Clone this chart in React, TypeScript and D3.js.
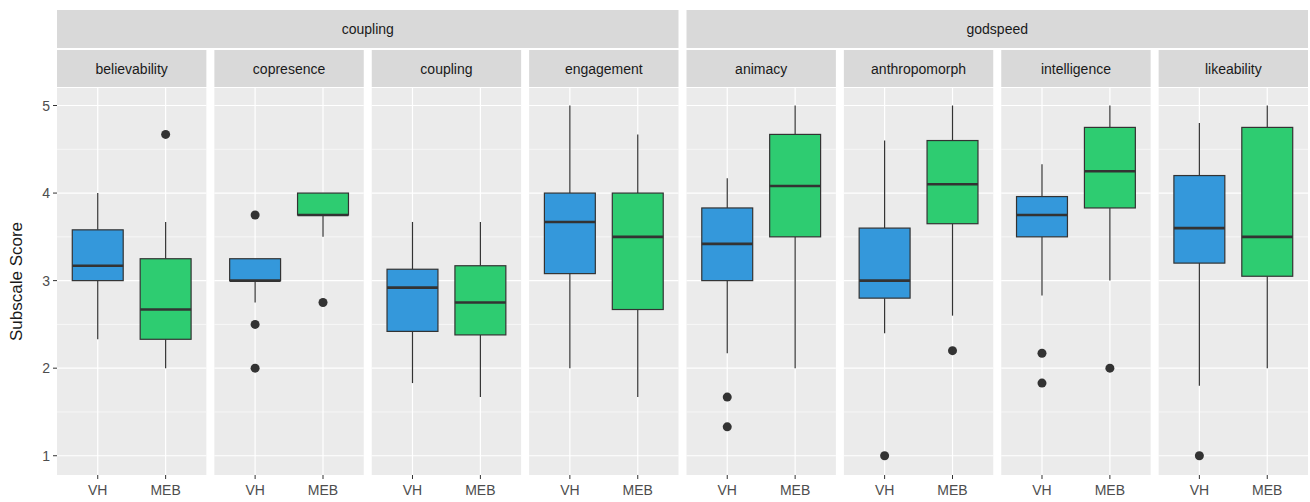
import * as d3 from 'd3';

const groups = ['coupling', 'godspeed'];
const panels = ['believability', 'copresence', 'coupling', 'engagement', 'animacy', 'anthropomorph', 'intelligence', 'likeability'];
const panelGroup = ['coupling', 'coupling', 'coupling', 'coupling', 'godspeed', 'godspeed', 'godspeed', 'godspeed'];
const conditions = ['VH', 'MEB'];
const yTicks = [1, 2, 3, 4, 5];
// [lowWhisker, q1, median, q3, highWhisker]
const vhStats = [
  [2.33, 3.0, 3.17, 3.58, 4.0],
  [2.75, 3.0, 3.0, 3.25, 3.25],
  [1.83, 2.42, 2.92, 3.13, 3.67],
  [2.0, 3.08, 3.67, 4.0, 5.0],
  [2.17, 3.0, 3.42, 3.83, 4.17],
  [2.4, 2.8, 3.0, 3.6, 4.6],
  [2.83, 3.5, 3.75, 3.96, 4.33],
  [1.8, 3.2, 3.6, 4.2, 4.8],
];
const mebStats = [
  [2.0, 2.33, 2.67, 3.25, 3.67],
  [3.5, 3.75, 3.75, 4.0, 4.0],
  [1.67, 2.38, 2.75, 3.17, 3.67],
  [1.67, 2.67, 3.5, 4.0, 4.67],
  [2.0, 3.5, 4.08, 4.67, 5.0],
  [2.6, 3.65, 4.1, 4.6, 5.0],
  [3.0, 3.83, 4.25, 4.75, 5.0],
  [2.0, 3.05, 3.5, 4.75, 5.0],
];
const vhOutliers = [[], [3.75, 2.5, 2.0], [], [], [1.67, 1.33], [1.0], [2.17, 1.83], [1.0]];
const mebOutliers = [[4.67], [2.75], [], [], [], [2.2], [2.0], []];
const fills = ['#3498db', '#2ecc71'];

const W = 1310, H = 502;
const left = 57, right = 1308, gap = 8;
const stripTop = 10, stripH = 38, innerTop = 50, innerH = 37;
const panelTop = 88, panelBot = 475;
const FONT = "'Liberation Sans Narrow', 'Arial Narrow', 'Liberation Sans', Arial, sans-serif";

export default function App() {
  const pw = (right - left - gap * (panels.length - 1)) / panels.length;
  const px = (i: number) => left + i * (pw + gap);
  const y = d3.scaleLinear().domain([0.78, 5.2]).range([panelBot, panelTop]);
  const x = d3.scaleBand().domain(conditions).range([0, pw]).paddingOuter(0.3).paddingInner(0.25 / 0.75 * 0.75);
  const xc = d3.scalePoint().domain(conditions).range([pw * 0.6 / 2.2, pw * 1.6 / 2.2]);
  const bw = pw * 0.75 / 2.2;
  const minor = [1.5, 2.5, 3.5, 4.5];
  void x;

  return (
    <svg width={W} height={H} style={{ position: 'absolute', left: 0, top: 0, fontFamily: FONT }}>
      <rect width={W} height={H} fill="#fff" />
      {groups.map((g, gi) => {
        const idx = panelGroup.map((p, i) => (p === g ? i : -1)).filter(i => i >= 0);
        const x0 = px(idx[0]), x1 = px(idx[idx.length - 1]) + pw;
        return (
          <g key={g}>
            <rect x={x0} y={stripTop} width={x1 - x0} height={stripH} fill="#d9d9d9" />
            <text x={(x0 + x1) / 2} y={stripTop + stripH / 2 + 5} textAnchor="middle" fontSize={14} fill="#1a1a1a">{g}</text>
          </g>
        );
      })}
      {panels.map((p, i) => {
        const ox = px(i);
        const stats = [vhStats[i], mebStats[i]];
        const outs = [vhOutliers[i], mebOutliers[i]];
        return (
          <g key={p} transform={`translate(${ox},0)`}>
            <rect x={0} y={innerTop} width={pw} height={innerH} fill="#d9d9d9" />
            <text x={pw / 2} y={innerTop + innerH / 2 + 5} textAnchor="middle" fontSize={14} fill="#1a1a1a">{p}</text>
            <rect x={0} y={panelTop} width={pw} height={panelBot - panelTop} fill="#ebebeb" />
            {minor.map(t => <line key={t} x1={0} x2={pw} y1={y(t)} y2={y(t)} stroke="#fff" strokeWidth={0.6} />)}
            {yTicks.map(t => <line key={t} x1={0} x2={pw} y1={y(t)} y2={y(t)} stroke="#fff" strokeWidth={1.2} />)}
            {conditions.map(c => <line key={c} x1={xc(c)} x2={xc(c)} y1={panelTop} y2={panelBot} stroke="#fff" strokeWidth={1.2} />)}
            {conditions.map((c, ci) => {
              const s = stats[ci];
              const cx = xc(c)!;
              return (
                <g key={c}>
                  <line x1={cx} x2={cx} y1={y(s[0])} y2={y(s[1])} stroke="#333" strokeWidth={1.2} />
                  <line x1={cx} x2={cx} y1={y(s[3])} y2={y(s[4])} stroke="#333" strokeWidth={1.2} />
                  <rect x={cx - bw / 2} y={y(s[3])} width={bw} height={y(s[1]) - y(s[3])} fill={fills[ci]} stroke="#333" strokeWidth={1.2} />
                  <line x1={cx - bw / 2} x2={cx + bw / 2} y1={y(s[2])} y2={y(s[2])} stroke="#333" strokeWidth={2.6} />
                  {outs[ci].map((o, oi) => <circle key={oi} cx={cx} cy={y(o)} r={4.5} fill="#333" />)}
                  <line x1={cx} x2={cx} y1={panelBot} y2={panelBot + 4} stroke="#333" />
                  <text x={cx} y={panelBot + 20} textAnchor="middle" fontSize={14} fill="#4d4d4d">{c}</text>
                </g>
              );
            })}
          </g>
        );
      })}
      {yTicks.map(t => (
        <g key={t}>
          <line x1={left - 4} x2={left} y1={y(t)} y2={y(t)} stroke="#333" />
          <text x={left - 7} y={y(t) + 5} textAnchor="end" fontSize={14} fill="#4d4d4d">{t}</text>
        </g>
      ))}
      <text transform={`translate(22,${(panelTop + panelBot) / 2}) rotate(-90)`} textAnchor="middle" fontSize={17} fill="#1a1a1a">Subscale Score</text>
    </svg>
  );
}
